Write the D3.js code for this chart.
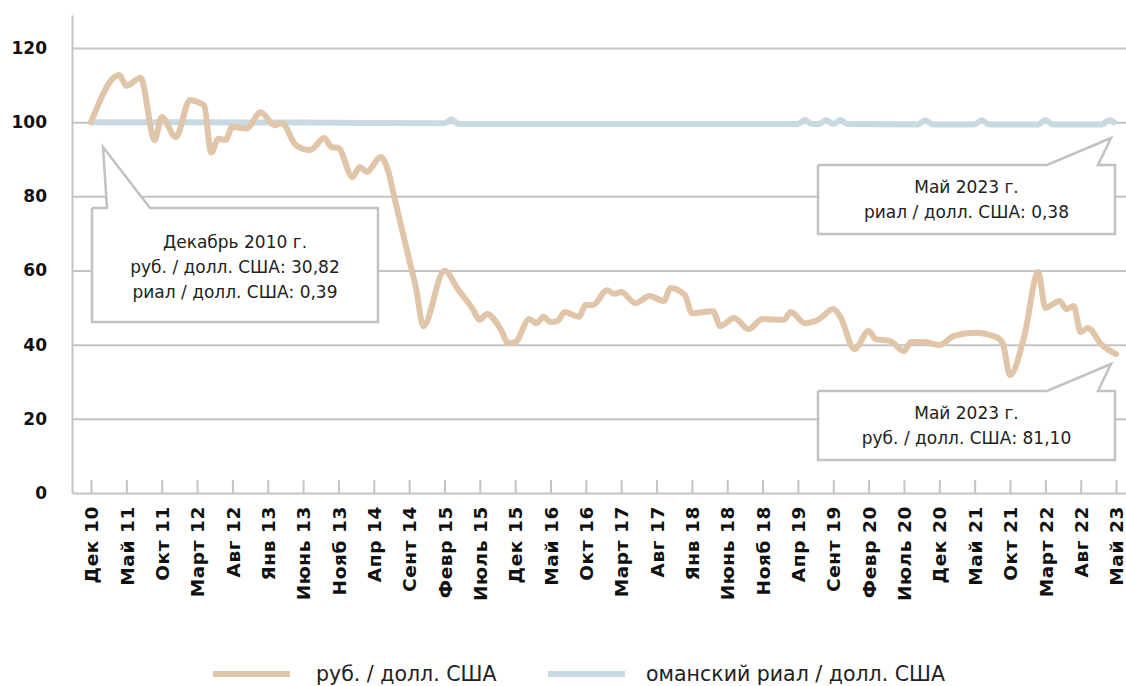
<!DOCTYPE html>
<html lang="ru">
<head>
<meta charset="UTF-8">
<title>Рубль и оманский риал к доллару США</title>
<script src="https://cdn.jsdelivr.net/npm/d3@7"></script>
<style>
    body { margin: 0; background: #fff; }
    svg { display: block; }
    svg text { font-family: "DejaVu Sans", sans-serif; }
</style>
</head>
<body>
<script>

// months counted from Dec 2010 (0) ; index = 100 at start
const tickMonths = [0,5,10,15,20,25,30,35,40,45,50,55,60,65,70,75,80,85,90,95,100,105,110,115,120,125,130,135,140,145]
const tickLabels = ["Дек 10","Май 11","Окт 11","Март 12","Авг 12","Янв 13","Июнь 13","Нояб 13","Апр 14","Сент 14",
                    "Февр 15","Июль 15","Дек 15","Май 16","Окт 16","Март 17","Авг 17","Янв 18","Июнь 18","Нояб 18",
                    "Апр 19","Сент 19","Февр 20","Июль 20","Дек 20","Май 21","Окт 21","Март 22","Авг 22","Май 23"]

const rubMonths = [0,4,5,7,9,10,12,14,15,16,17,18,19,20,22,24,26,27,29,31,33,34,35,37,38,39,41,42,43,44,45,46,47,
                   50,52,54,55,56,58,59,60,62,63,64,65,66,67,69,70,71,73,74,75,77,79,81,82,84,85,88,89,91,93,95,
                   98,99,101,103,105,106,108,110,111,113,115,116,118,120,122,125,128,129,130,132,134,135,137,138,139,
                   140,141,143,145]
const rubValues = [100,112.7,109.8,112,95.2,101.4,96,106,105.5,104.5,91.8,95.5,95.2,98.7,98.3,102.7,99.2,99.7,93.8,92.5,95.7,93.3,93,85.2,87.9,86.6,90.6,87,79,71,63,55,45,
                   59.9,54.7,49.6,46.7,48.3,44,40.5,40.7,46.9,45.8,47.5,46.1,46.4,48.8,47.5,50.7,50.7,54.7,53.7,54.2,51.2,53.1,51.8,55.3,53.4,48.5,49,45,47.2,44.2,46.9,
                   46.7,48.8,45.8,46.9,49.6,47.5,38.8,43.7,41.5,41,38.3,40.7,40.7,39.9,42.3,43.2,42.1,40.2,31.8,42.1,59.6,49.9,51.8,49.6,50.4,
                   43.4,44.5,39.9,37.5]

const rialMonths = [0,30,50,51,52,100,101,102,103,104,105,106,107,117,118,119,125,126,127,134,135,136,143,144,145]
const rialValues = [100,99.9,99.7,100.7,99.5,99.5,100.6,99.5,99.5,100.6,99.5,100.6,99.5,99.4,100.5,99.4,99.4,100.5,99.4,99.4,100.6,99.4,99.4,100.5,99.6]

const yTicks = [0,20,40,60,80,100,120]

const rubColor = "#e0c5a8"
const rialColor = "#c9d9e2"
const gridColor = "#c4c4c4"

const width = 1126, height = 686
const svg = d3.select("body").append("svg").attr("width", width).attr("height", height)

// SCALES
const x = d3.scaleLinear().domain([-2.69, 146.41]).range([72, 1126])
const y = d3.scaleLinear().domain([0, 128.9]).range([493, 15])

// GRIDLINES
svg.append("g")
    .attr("transform", "translate(72,0)")
    .call(d3.axisLeft(y).tickValues(yTicks.filter(d => d > 0)).tickSize(-(1126 - 72)).tickFormat(""))
    .call(g => g.select(".domain").remove())
    .selectAll("line").attr("stroke", gridColor).attr("stroke-width", 2)

// Y AXIS
svg.append("g")
    .attr("transform", "translate(72,0)")
    .call(d3.axisLeft(y).tickValues(yTicks).tickSize(0).tickPadding(25).tickFormat(d3.format("d")))
    .call(g => g.select(".domain").attr("stroke", gridColor).attr("stroke-width", 2))
    .selectAll("text")
    .style("font-size", "17px").style("font-weight", "bold").attr("fill", "#111")

// X AXIS
const xAxis = d3.axisBottom(x)
    .tickValues(tickMonths)
    .tickSizeInner(-13)
    .tickSizeOuter(0)
    .tickFormat((d, i) => tickLabels[i])

svg.append("g")
    .attr("transform", "translate(0,493)")
    .call(xAxis)
    .call(g => g.select(".domain").attr("stroke", gridColor).attr("stroke-width", 2))
    .call(g => g.selectAll("line").attr("stroke", gridColor).attr("stroke-width", 2))
    .selectAll("text")
    .attr("transform", "rotate(-90)")
    .attr("text-anchor", "end")
    .attr("x", -13)
    .attr("y", 0)
    .attr("dy", "0.36em")
    .style("font-size", "18.5px").style("font-weight", "bold").style("letter-spacing", "0.6px").attr("fill", "#111")

// LINES
const rubData = rubMonths.map((m, i) => ({m: m, v: rubValues[i]}))
const rialData = rialMonths.map((m, i) => ({m: m, v: rialValues[i]}))

const line = d3.line().x(d => x(d.m)).y(d => y(d.v)).curve(d3.curveMonotoneX)

svg.append("path").datum(rialData)
    .attr("d", line).attr("fill", "none")
    .attr("stroke", rialColor).attr("stroke-width", 6).attr("stroke-linejoin", "round")

svg.append("path").datum(rubData)
    .attr("d", line).attr("fill", "none")
    .attr("stroke", rubColor).attr("stroke-width", 6).attr("stroke-linejoin", "round").attr("stroke-linecap", "round")

// CALLOUTS
function callout(x0, y0, x1, y1, pa, pb, tip, lines, ty) {
    const pts = [[x0, y0], [pa, y0], tip, [pb, y0], [x1, y0], [x1, y1], [x0, y1], [x0, y0]]
    svg.append("path")
        .attr("d", d3.line()(pts))
        .attr("fill", "#fff").attr("stroke", "#c2c2c2").attr("stroke-width", 2.5)
    lines.forEach((t, i) => {
        svg.append("text").attr("x", (x0 + x1) / 2).attr("y", ty + i * 25)
            .attr("text-anchor", "middle").style("font-size", "17px").attr("fill", "#222").text(t)
    })
}

callout(92, 208, 378, 322, 107, 150, [103, 147],
        ["Декабрь 2010 г.", "руб. / долл. США: 30,82", "риал / долл. США: 0,39"], 248)
callout(818, 165, 1115, 234, 1047, 1098, [1111, 138],
        ["Май 2023 г.", "риал / долл. США: 0,38"], 193)
callout(818, 391, 1115, 460, 1047, 1098, [1111, 364],
        ["Май 2023 г.", "руб. / долл. США: 81,10"], 419)

// LEGEND
const legend = [{name: "руб. / долл. США", color: rubColor, x: 213, tx: 316},
                {name: "оманский риал / долл. США", color: rialColor, x: 548, tx: 646}]
legend.forEach(l => {
    svg.append("line").attr("x1", l.x).attr("x2", l.x + 77).attr("y1", 674).attr("y2", 674)
        .attr("stroke", l.color).attr("stroke-width", 6)
    svg.append("text").attr("x", l.tx).attr("y", 681).style("font-size", "20.5px").attr("fill", "#222").text(l.name)
})

</script>
</body>
</html>
